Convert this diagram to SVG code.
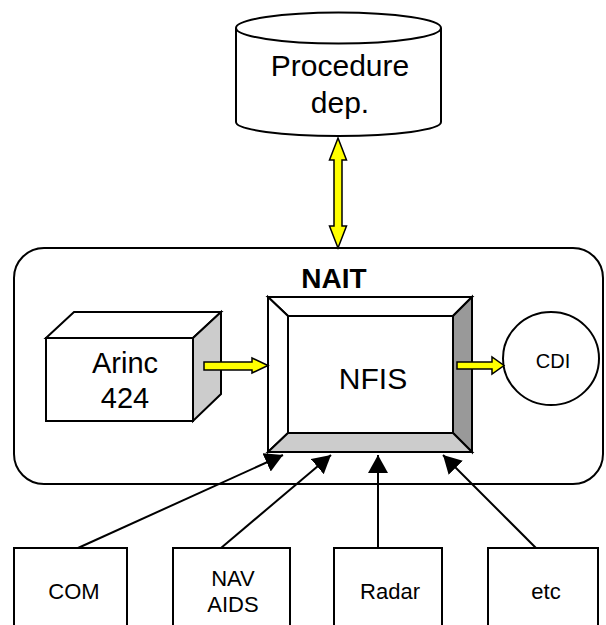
<svg xmlns="http://www.w3.org/2000/svg" width="606" height="625" viewBox="0 0 606 625">
<style>
  .s { stroke: #000; stroke-width: 2; stroke-linejoin: miter; }
  .t { font-family: "Liberation Sans", Arial, sans-serif; fill: #000; text-anchor: middle; }
  .y { fill: #ffff00; stroke: #000; stroke-width: 1.5; }
  .c { stroke: #000; stroke-width: 2; fill: none; }
</style>
<defs>
  <marker id="ah" markerUnits="userSpaceOnUse" markerWidth="18" markerHeight="20" refX="18" refY="10" orient="auto" viewBox="0 0 18 20">
    <path d="M0,0 L18,10 L0,20 Z" fill="#000"/>
  </marker>
</defs>
<rect width="606" height="625" fill="#fff"/>

<g id="nait">
  <rect x="14" y="248" width="589" height="236" rx="30" ry="30" fill="#fff" class="s"/>
  <text x="334" y="288" class="t" font-size="28" font-weight="bold">NAIT</text>
</g>

<g id="procedure">
  <path d="M236,28 A102.5,15.5 0 0 1 441,28 L441,122 A102.5,14 0 0 1 236,122 Z" fill="#fff" class="s"/>
  <path d="M236,28 A102.5,15.5 0 0 0 441,28" fill="none" class="s"/>
  <text x="340" y="76" class="t" font-size="30">Procedure</text>
  <text x="340" y="113" class="t" font-size="30">dep.</text>
</g>

<g id="arinc">
  <rect x="46" y="338" width="147" height="83" fill="#fff" class="s"/>
  <polygon points="46,338 74,312 221,312 193,338" fill="#fff" class="s"/>
  <polygon points="193,338 221,312 221,394 193,421" fill="#ccc" class="s"/>
  <text x="125" y="373" class="t" font-size="29">Arinc</text>
  <text x="125" y="408" class="t" font-size="29">424</text>
</g>

<g id="nfis">
  <polygon points="268,297 472,297 453,316 288,316" fill="#fff" class="s"/>
  <polygon points="268,297 288,316 288,433 268,452" fill="#fff" class="s"/>
  <polygon points="472,297 472,452 453,433 453,316" fill="#999" class="s"/>
  <polygon points="268,452 472,452 453,433 288,433" fill="#ccc" class="s"/>
  <rect x="288" y="316" width="165" height="117" fill="#fff" class="s"/>
  <text x="373" y="389" class="t" font-size="30">NFIS</text>
</g>

<g id="cdi">
  <ellipse cx="551" cy="358.5" rx="48" ry="46.5" fill="#fff" class="s"/>
  <text x="553" y="368" class="t" font-size="20">CDI</text>
</g>

<g id="com">
  <rect x="14" y="548" width="113" height="100" fill="#fff" class="s"/>
  <text x="74" y="599" class="t" font-size="22">COM</text>
</g>
<g id="navaids">
  <rect x="173" y="548" width="117" height="100" fill="#fff" class="s"/>
  <text x="233" y="586" class="t" font-size="22">NAV</text>
  <text x="233" y="612" class="t" font-size="22">AIDS</text>
</g>
<g id="radar">
  <rect x="334" y="548" width="108" height="100" fill="#fff" class="s"/>
  <text x="390" y="599" class="t" font-size="22">Radar</text>
</g>
<g id="etc">
  <rect x="488" y="548" width="110" height="100" fill="#fff" class="s"/>
  <text x="546" y="599" class="t" font-size="22">etc</text>
</g>

<g id="connectors">
  <polygon class="y" points="338,138 346.5,160 342,160 342,226 346.5,226 338,248 329.5,226 334,226 334,160 329.5,160"/>
  <polygon class="y" points="204,362 252,362 252,358 268,365.5 252,373 252,370 204,370"/>
  <polygon class="y" points="457,362 492,362 492,357 504,365.5 492,374 492,369 457,369"/>
  <line class="c" x1="78" y1="548" x2="283" y2="455" marker-end="url(#ah)"/>
  <line class="c" x1="221" y1="548" x2="331" y2="455" marker-end="url(#ah)"/>
  <line class="c" x1="378" y1="548" x2="378" y2="455" marker-end="url(#ah)"/>
  <line class="c" x1="536" y1="548" x2="443" y2="455" marker-end="url(#ah)"/>
</g>
</svg>
